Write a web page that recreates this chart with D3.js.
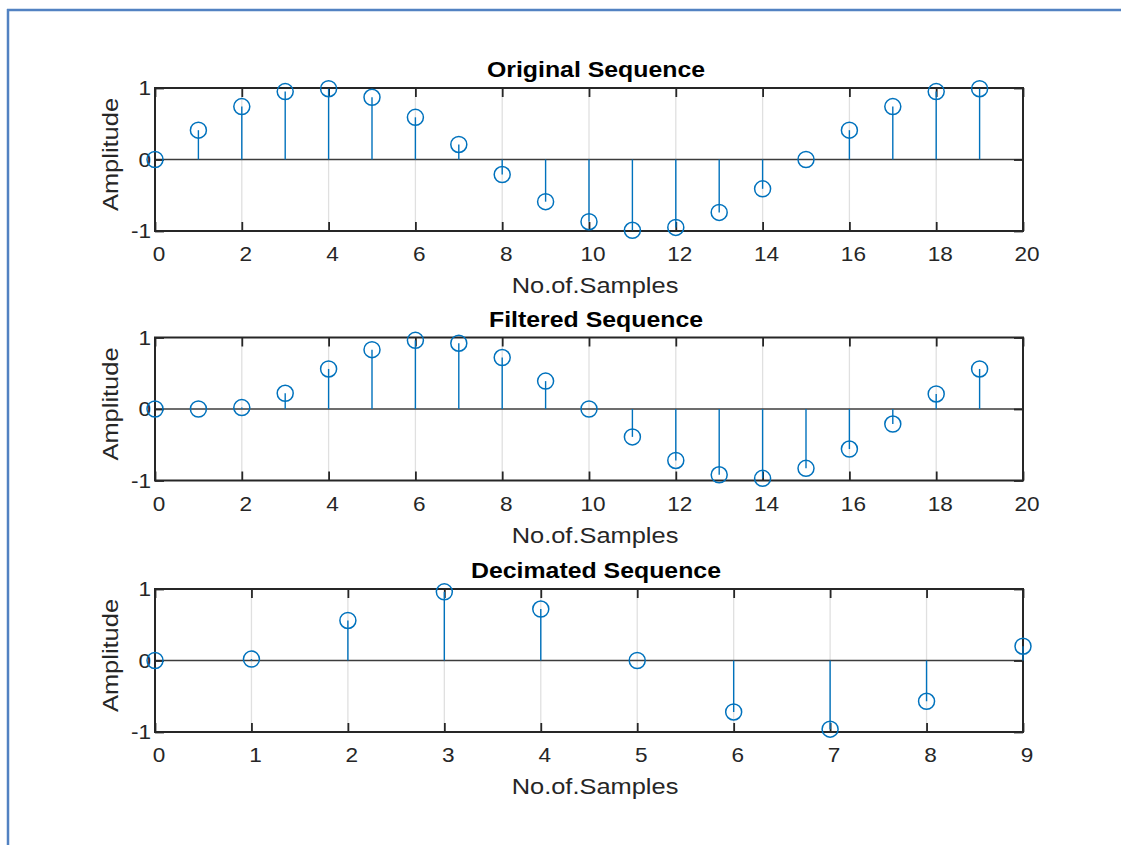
<!DOCTYPE html>
<html>
<head>
<meta charset="utf-8">
<script src="https://cdn.jsdelivr.net/npm/d3@7"></script>
<style>
  body { margin: 0; background: #fff; }
  text { font-family: "Liberation Sans", Arial, sans-serif; fill: #262626; }
</style>
</head>
<body>
<div id="chart"></div>
<script>
// sample values
const original = [0, 0.41, 0.74, 0.95, 0.99, 0.87, 0.59, 0.21, -0.21, -0.59,
                  -0.87, -0.99, -0.95, -0.74, -0.41, 0, 0.41, 0.74, 0.95, 0.99];
const filtered = [0, 0, 0.02, 0.22, 0.56, 0.83, 0.96, 0.92, 0.72, 0.39,
                  0, -0.39, -0.72, -0.92, -0.97, -0.83, -0.56, -0.21, 0.21, 0.56];
const decimated = [0, 0.02, 0.56, 0.96, 0.72, 0, -0.72, -0.96, -0.57, 0.2];

const titles = ['Original Sequence', 'Filtered Sequence', 'Decimated Sequence'];
const xTicksLong = [0, 2, 4, 6, 8, 10, 12, 14, 16, 18, 20];
const xTicksShort = [0, 1, 2, 3, 4, 5, 6, 7, 8, 9];
const yTicks = [-1, 0, 1];
const xLabel = 'No.of.Samples';
const yLabel = 'Amplitude';

const w = 1121;
const h = 845;
const left = 155;
const right = 1023;
const plotH = 143;
const tops = [88, 337.5, 589];
const blue = '#0072BD';
const ink = '#262626';
const tickLen = 9;
// the text in the picture runs a bit wider than Liberation Sans
const stretch = 1.13;

const svg = d3.select('#chart')
              .append('svg')
              .attr('width', w)
              .attr('height', h);

// outer frame
svg.append('line').attr('x1', 7).attr('x2', w).attr('y1', 10).attr('y2', 10)
   .attr('stroke', '#5282c2').attr('stroke-width', 2.5);
svg.append('line').attr('x1', 8).attr('x2', 8).attr('y1', 9).attr('y2', h)
   .attr('stroke', '#5282c2').attr('stroke-width', 2.5);

const panels = [
  {values: original, xMax: 20, ticks: xTicksLong},
  {values: filtered, xMax: 20, ticks: xTicksLong},
  {values: decimated, xMax: 9, ticks: xTicksShort}
];

//Puts a horizontally stretched text at (x, y)
function addText(g, x, y, str, size, anchor, bold) {
  return g.append('text')
          .attr('transform', `translate(${x}, ${y}) scale(${stretch}, 1)`)
          .attr('text-anchor', anchor)
          .style('font-size', size + 'px')
          .style('font-weight', bold ? 'bold' : 'normal')
          .style('fill', bold ? '#000' : ink)
          .text(str);
}

panels.forEach((p, k) => {
  const top = tops[k];
  const bottom = top + plotH;

  const xScale = d3.scaleLinear().domain([0, p.xMax]).range([left, right]);
  const yScale = d3.scaleLinear().domain([-1, 1]).range([bottom, top]);

  const g = svg.append('g');

  //grid (vertical only, horizontal ones sit under the box / baseline)
  g.selectAll('.grid')
   .data(p.ticks)
   .enter()
   .append('line')
   .attr('x1', d => xScale(d)).attr('x2', d => xScale(d))
   .attr('y1', top).attr('y2', bottom)
   .attr('stroke', '#e0e0e0').attr('stroke-width', 1.3);

  //baseline
  g.append('line')
   .attr('x1', left).attr('x2', right)
   .attr('y1', yScale(0)).attr('y2', yScale(0))
   .attr('stroke', '#3c3c3c').attr('stroke-width', 1.4);

  //ticks on all four sides, pointing inward
  const xAxisB = d3.axisBottom(xScale).tickValues(p.ticks).tickSize(-tickLen).tickFormat('');
  const xAxisT = d3.axisTop(xScale).tickValues(p.ticks).tickSize(-tickLen).tickFormat('');
  const yAxisL = d3.axisLeft(yScale).tickValues(yTicks).tickSize(-tickLen).tickFormat('');
  const yAxisR = d3.axisRight(yScale).tickValues(yTicks).tickSize(-tickLen).tickFormat('');

  [[xAxisB, `translate(0, ${bottom})`], [xAxisT, `translate(0, ${top})`],
   [yAxisL, `translate(${left}, 0)`], [yAxisR, `translate(${right}, 0)`]].forEach(a => {
    const ax = g.append('g').attr('transform', a[1]).call(a[0]);
    ax.select('.domain').remove();
    ax.selectAll('line').attr('stroke', ink).attr('stroke-width', 1.8);
  });

  //box
  g.append('rect')
   .attr('x', left).attr('y', top)
   .attr('width', right - left).attr('height', plotH)
   .attr('fill', 'none').attr('stroke', ink).attr('stroke-width', 2);

  //tick labels
  p.ticks.forEach(t => addText(g, xScale(t) + 4, bottom + 30, t, 20, 'middle'));
  yTicks.forEach(t => addText(g, left - 4, yScale(t) + 7, t, 20, 'end'));

  //stems
  g.selectAll('.stem')
   .data(p.values)
   .enter()
   .append('line')
   .attr('x1', (d, i) => xScale(i)).attr('x2', (d, i) => xScale(i))
   .attr('y1', yScale(0)).attr('y2', d => yScale(d))
   .attr('stroke', blue).attr('stroke-width', 1.4);

  g.selectAll('.mark')
   .data(p.values)
   .enter()
   .append('circle')
   .attr('cx', (d, i) => xScale(i))
   .attr('cy', d => yScale(d))
   .attr('r', 8)
   .attr('fill', 'none')
   .attr('stroke', blue)
   .attr('stroke-width', 1.5);

  //labels
  addText(g, 596, top - 11, titles[k], 22, 'middle', true);
  addText(g, 595, bottom + 62, xLabel, 22.5, 'middle');

  g.append('text')
   .attr('transform', `translate(118, ${top + plotH / 2 - 5}) rotate(-90) scale(${stretch}, 1)`)
   .attr('text-anchor', 'middle')
   .style('font-size', '22.5px')
   .text(yLabel);
});
</script>
</body>
</html>
